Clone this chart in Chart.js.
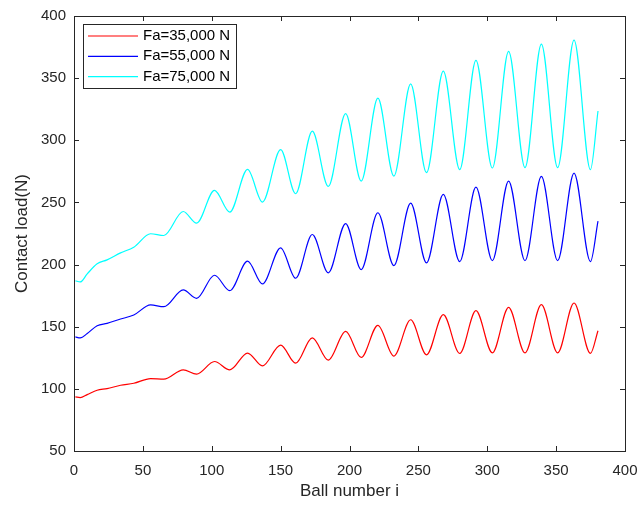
<!DOCTYPE html>
<html>
<head>
<meta charset="utf-8">
<script src="https://cdn.jsdelivr.net/npm/chart.js@4.4.0/dist/chart.umd.min.js"></script>
<style>
  html, body { margin: 0; padding: 0; background: #fff; }
  #wrap { width: 641px; height: 507px; }
</style>
</head>
<body>
<div id="wrap"><canvas id="load-chart" width="641" height="507"></canvas></div>
<script>
// ball positions (peaks / troughs / bends)
const ballNumber = [1, 4.5, 9.6, 16.8, 24, 33.8, 43.4, 55.6, 65.2, 79.3, 89, 102, 113.1, 126, 136.8,
  150, 160.9, 173, 184.6, 197.2, 208.5, 220.6, 232.2, 244.4, 255.9, 268.1, 280, 291.8, 303.7,
  315.5, 327.4, 339.3, 351.1, 363, 374.9, 380.4];

const load35 = [93.5, 93, 95.4, 98.9, 100.2, 102.9, 104.5, 108.3, 107.8, 115.3, 111.9, 122, 115.3, 128.8, 118.5,
  135.2, 120.7, 141.1, 123.1, 146.2, 125.3, 151.1, 126.4, 155.6, 127.4, 159.7, 128.5, 162.9, 129,
  165.6, 129, 167.7, 129, 169.1, 128.5, 146.8];

const load55 = [141.8, 141, 144.5, 150.8, 152.7, 156.2, 159.4, 167.5, 166.1, 179.6, 172.8, 191.4, 179, 202.7, 184.4,
  213.5, 189, 224.2, 193.3, 233, 196, 241.7, 199.2, 249.5, 201.4, 256.5, 202.4, 262.3, 203.2,
  267.2, 203.2, 271, 203.2, 273.6, 202.4, 235];

const load75 = [187, 186, 192.5, 200.6, 203.8, 209.4, 214, 224.8, 223.4, 242.7, 233.3, 259.7, 242.2, 276.6, 250.3,
  292.5, 257, 307.3, 262.9, 321.5, 267.2, 333.9, 271.2, 345.4, 273.9, 355.6, 276.4, 364.3, 277.7,
  371.5, 278, 377.4, 278, 380.6, 276.4, 323.6];

const seriesLabels = ["Fa=35,000 N", "Fa=55,000 N", "Fa=75,000 N"];
const xTicks = [0, 50, 100, 150, 200, 250, 300, 350, 400];
const yTicks = [50, 100, 150, 200, 250, 300, 350, 400];

const ink = "#262626";
const font = "Liberation Sans, Arial, Helvetica, sans-serif";

function pts(values) {
  return ballNumber.map((x, i) => ({ x: x, y: values[i] }));
}

// MATLAB style box with inward ticks on all four sides
const boxPlugin = {
  id: "box",
  afterDraw(chart) {
    const { ctx, scales } = chart;
    const left = scales.x.getPixelForValue(0), right = scales.x.getPixelForValue(400);
    const top = scales.y.getPixelForValue(400), bottom = scales.y.getPixelForValue(50);
    ctx.save();
    ctx.strokeStyle = ink;
    ctx.lineWidth = 1;
    ctx.strokeRect(Math.round(left) + 0.5, Math.round(top) + 0.5,
                   Math.round(right - left), Math.round(bottom - top));
    const len = 5;
    ctx.beginPath();
    xTicks.forEach(v => {
      const px = Math.round(scales.x.getPixelForValue(v)) + 0.5;
      ctx.moveTo(px, bottom); ctx.lineTo(px, bottom - len);
      ctx.moveTo(px, top); ctx.lineTo(px, top + len);
    });
    yTicks.forEach(v => {
      const py = Math.round(scales.y.getPixelForValue(v)) + 0.5;
      ctx.moveTo(left, py); ctx.lineTo(left + len, py);
      ctx.moveTo(right, py); ctx.lineTo(right - len, py);
    });
    ctx.stroke();

    // legend in the top left corner
    const lx = left + 9, ly = top + 8, lw = 153, lh = 64;
    ctx.fillStyle = "#fff";
    ctx.fillRect(lx, ly, lw, lh);
    ctx.strokeStyle = ink;
    ctx.strokeRect(Math.round(lx) + 0.5, Math.round(ly) + 0.5, lw, lh);
    ctx.font = "15px " + font;
    ctx.textBaseline = "middle";
    chart.data.datasets.forEach((ds, i) => {
      const y = ly + 12 + i * 20.3;
      ctx.strokeStyle = ds.borderColor;
      ctx.lineWidth = 1.2;
      ctx.beginPath();
      ctx.moveTo(lx + 5, y); ctx.lineTo(lx + 55, y);
      ctx.stroke();
      ctx.fillStyle = "#000";
      ctx.fillText(ds.label, lx + 60, y);
    });
    ctx.restore();
  }
};

const colors = ["#ff0000", "#0000ff", "#00ffff"];
const ctx = document.getElementById("load-chart").getContext("2d");
new Chart(ctx, {
  type: "line",
  data: {
    datasets: [load35, load55, load75].map((vals, i) => ({
      label: seriesLabels[i],
      data: pts(vals),
      borderColor: colors[i],
      borderWidth: 1.2,
      pointRadius: 0,
      fill: false,
      cubicInterpolationMode: "monotone",
    })),
  },
  options: {
    responsive: false,
    animation: { duration: 0 },
    layout: { autoPadding: false, padding: { left: 0, top: 16, right: 16, bottom: 0 } },
    plugins: { legend: { display: false }, tooltip: { enabled: false } },
    scales: {
      x: {
        type: "linear",
        min: 0, max: 400,
        afterFit(scale) {
          scale.height = 56;
          scale.paddingLeft = 0; scale.paddingRight = 0;
        },
        afterBuildTicks(scale) { scale.ticks = xTicks.map(v => ({ value: v })); },
        grid: { display: false, drawTicks: false },
        border: { display: false },
        ticks: { color: ink, font: { size: 15, family: font }, padding: 11, maxRotation: 0 },
        title: { display: true, text: "Ball number i", color: ink,
                 font: { size: 17, family: font }, padding: { top: 0, bottom: 5 } },
      },
      y: {
        type: "linear",
        min: 50, max: 400,
        afterFit(scale) {
          scale.width = 74;
          scale.paddingTop = 0; scale.paddingBottom = 0;
        },
        afterBuildTicks(scale) { scale.ticks = yTicks.map(v => ({ value: v })); },
        grid: { display: false, drawTicks: false },
        border: { display: false },
        ticks: { color: ink, font: { size: 15, family: font }, padding: 8 },
        title: { display: true, text: "Contact load(N)", color: ink,
                 font: { size: 17, family: font }, padding: { top: 12, bottom: 0 } },
      },
    },
  },
  plugins: [boxPlugin],
});
</script>
</body>
</html>
